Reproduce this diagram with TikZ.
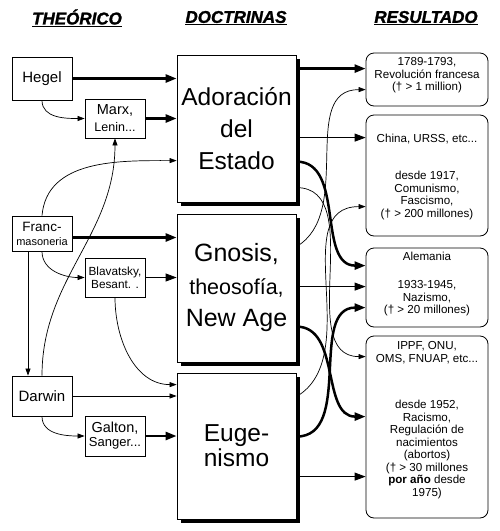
\documentclass[tikz,border=0pt]{standalone}
\usepackage{fontspec}
\setmainfont{Liberation Sans}
\newfontfamily\headfont[FakeBold=1.5]{Liberation Sans Bold Italic}
\usetikzlibrary{arrows.meta,calc,shadows}

\tikzset{
  header/.style={font=\fontsize{17}{20}\selectfont\headfont},
  leftbox/.style={draw, line width=0.8pt, minimum width=60pt, inner sep=0pt, align=center},
  docbox/.style={draw, fill=white, line width=0.8pt, minimum width=119pt, inner sep=0pt, align=center,
    drop shadow={shadow xshift=4pt, shadow yshift=-4pt, fill=black, opacity=1}},
  resbox/.style={draw, rounded corners=8pt, line width=0.8pt, minimum width=122pt, inner sep=0pt},
  restext/.style={anchor=north, inner sep=0pt, align=center, font=\fontsize{11.6}{12.5}\selectfont},
  thickarr/.style={line width=2.5pt, -{Triangle[length=11pt,width=8pt]}},
  thinarr/.style={line width=0.8pt, -{Triangle[length=11pt,width=8pt]}},
  curvarr/.style={line width=0.7pt, -{Triangle[length=7pt,width=5pt]}},
}

\begin{document}
\begin{tikzpicture}[x=1pt,y=-1pt]
\useasboundingbox (0,0) rectangle (500,531);
% titles
\node[header] (hteo) at (77,18) {\underline{THEÓRICO}};
\node[header] (hdoc) at (236,18) {\underline{DOCTRINAS}};
\node[header] (hres) at (426,18) {\underline{RESULTADO}};

% theorists
\node[leftbox, minimum height=43pt, font=\fontsize{15}{17}\selectfont] (hegel) at (42,78.5) {Hegel};
\node[leftbox, minimum height=39pt, font=\fontsize{12.5}{17}\selectfont] (marx) at (115,118.5) {{\fontsize{14.5}{17}\selectfont Marx,}\\Lenin...};
\node[leftbox, minimum height=35pt, font=\fontsize{11}{14}\selectfont] (franc) at (42,233.5) {{\fontsize{13.5}{14}\selectfont Franc-}\\masoneria};
\node[leftbox, minimum height=39pt, font=\fontsize{11.8}{13}\selectfont] (blav) at (115,277.5) {Blavatsky,\\Besant. .};
\node[leftbox, minimum height=40pt, font=\fontsize{15}{17}\selectfont] (darwin) at (42,396) {Darwin};
\node[leftbox, minimum height=40pt, font=\fontsize{13}{14}\selectfont] (galton) at (115,436) {{\fontsize{14.5}{14}\selectfont Galton,}\\Sanger...};

% doctrines
\node[docbox, minimum height=147pt, font=\fontsize{24.5}{32}\selectfont] (adora) at (236.5,128.5) {Adoración\\del\\Estado};
\node[docbox, minimum height=148pt, font=\fontsize{25}{32.5}\selectfont] (gnosis) at (236.5,288) {Gnosis,\\{\fontsize{21.5}{32}\selectfont theosofía,}\\New Age};
\node[docbox, minimum height=146pt, font=\fontsize{24.5}{25}\selectfont] (eugen) at (236.5,446) {Euge-\\nismo};

% results
\node[resbox, minimum height=53pt] (res1) at (427,79.5) {};
\node[resbox, minimum height=121pt] (res2) at (427,175.5) {};
\node[resbox, minimum height=79pt] (res3) at (427,287.5) {};
\node[resbox, minimum height=182pt] (res4) at (427,427) {};
\node[restext] (res1t) at (427,57.5) {1789-1793,\\Revolución francesa\\(† > 1 million)};
\node[restext] (res2t) at (427,133.5) {China, URSS, etc...\\[25pt]desde 1917,\\Comunismo,\\Fascismo,\\(† > 200 millones)};
\node[restext] (res3t) at (427,251.5) {Alemania\\[16pt]1933-1945,\\Nazismo,\\(† > 20 millones)};
\node[restext] (res4t) at (427,341.5) {IPPF, ONU,\\OMS, FNUAP, etc...\\[34pt]desde 1952,\\Racismo,\\Regulación de\\nacimientos\\(abortos)\\(† > 30 millones\\\textbf{por año} desde\\1975)};

% theorists -> doctrines
\draw[thickarr] (hegel.east) -- (hegel.east -| adora.west);
\draw[curvarr] (hegel.south) to[out=-90,in=180] (marx.west);
\draw[thickarr] (marx.east) -- (marx.east -| adora.west);
\draw[curvarr] (franc.north) to[out=85,in=180] ($(adora.north west)+(0,106)$);
\draw[curvarr] (darwin.north) to[out=90,in=-90] (marx.south);
\draw[curvarr] ([xshift=-14pt]franc.south) -- ([xshift=-14pt]darwin.north);
\draw[thickarr] ($(franc.east)+(0,4)$) -- ($(franc.east -| gnosis.west)+(0,4)$);
\draw[curvarr] (franc.south) to[out=-90,in=180] (blav.west);
\draw[thinarr] (blav.east) -- (blav.east -| gnosis.west);
\draw[curvarr] (blav.south) to[out=-90,in=180] ($(eugen.north west)+(0,12)$);
\draw[curvarr] (darwin.east) -- (darwin.east -| eugen.west);
\draw[curvarr] (darwin.south) to[out=-90,in=180] (galton.west);
\draw[thickarr] (galton.east) -- (galton.east -| eugen.west);

% doctrines -> results
\coordinate (ad1) at ($(adora.north east)+(0,14)$);
\coordinate (ad2) at ($(adora.north east)+(0,83)$);
\coordinate (ad3) at ($(adora.north east)+(0,107)$);
\coordinate (ad4) at ($(adora.north east)+(0,133)$);
\coordinate (gn1) at ($(gnosis.north east)+(0,33)$);
\coordinate (gn2) at ($(gnosis.north east)+(0,73)$);
\coordinate (gn3) at ($(gnosis.north east)+(0,113)$);
\coordinate (eu1) at ($(eugen.north east)+(0,24)$);
\coordinate (eu2) at ($(eugen.north east)+(0,64)$);
\coordinate (eu3) at ($(eugen.north east)+(0,104)$);
\draw[thickarr] (ad1) -- (ad1 -| res1.west);
\draw[thinarr] (ad2) -- (ad2 -| res2.west);
\draw[thickarr] (ad3) to[out=0,in=180] ($(res3.north west)+(0,18)$);
\draw[curvarr] (ad4) to[out=0,in=180] ($(res4.north west)+(0,21)$);
\draw[curvarr] (gn1) to[out=30,in=180] ($(res1.north west)+(0,37)$);
\draw[thinarr] (gn2) -- (gn2 -| res3.west);
\draw[thickarr] (gn3) to[out=0,in=180] ($(res4.north west)+(0,81)$);
\draw[curvarr] (eu1) to[out=30,in=180] ($(res2.north west)+(0,92)$);
\draw[thickarr] (eu2) to[out=0,in=180] ($(res3.north west)+(0,60)$);
\draw[thinarr] (eu3) -- (eu3 -| res4.west);
\end{tikzpicture}
\end{document}
